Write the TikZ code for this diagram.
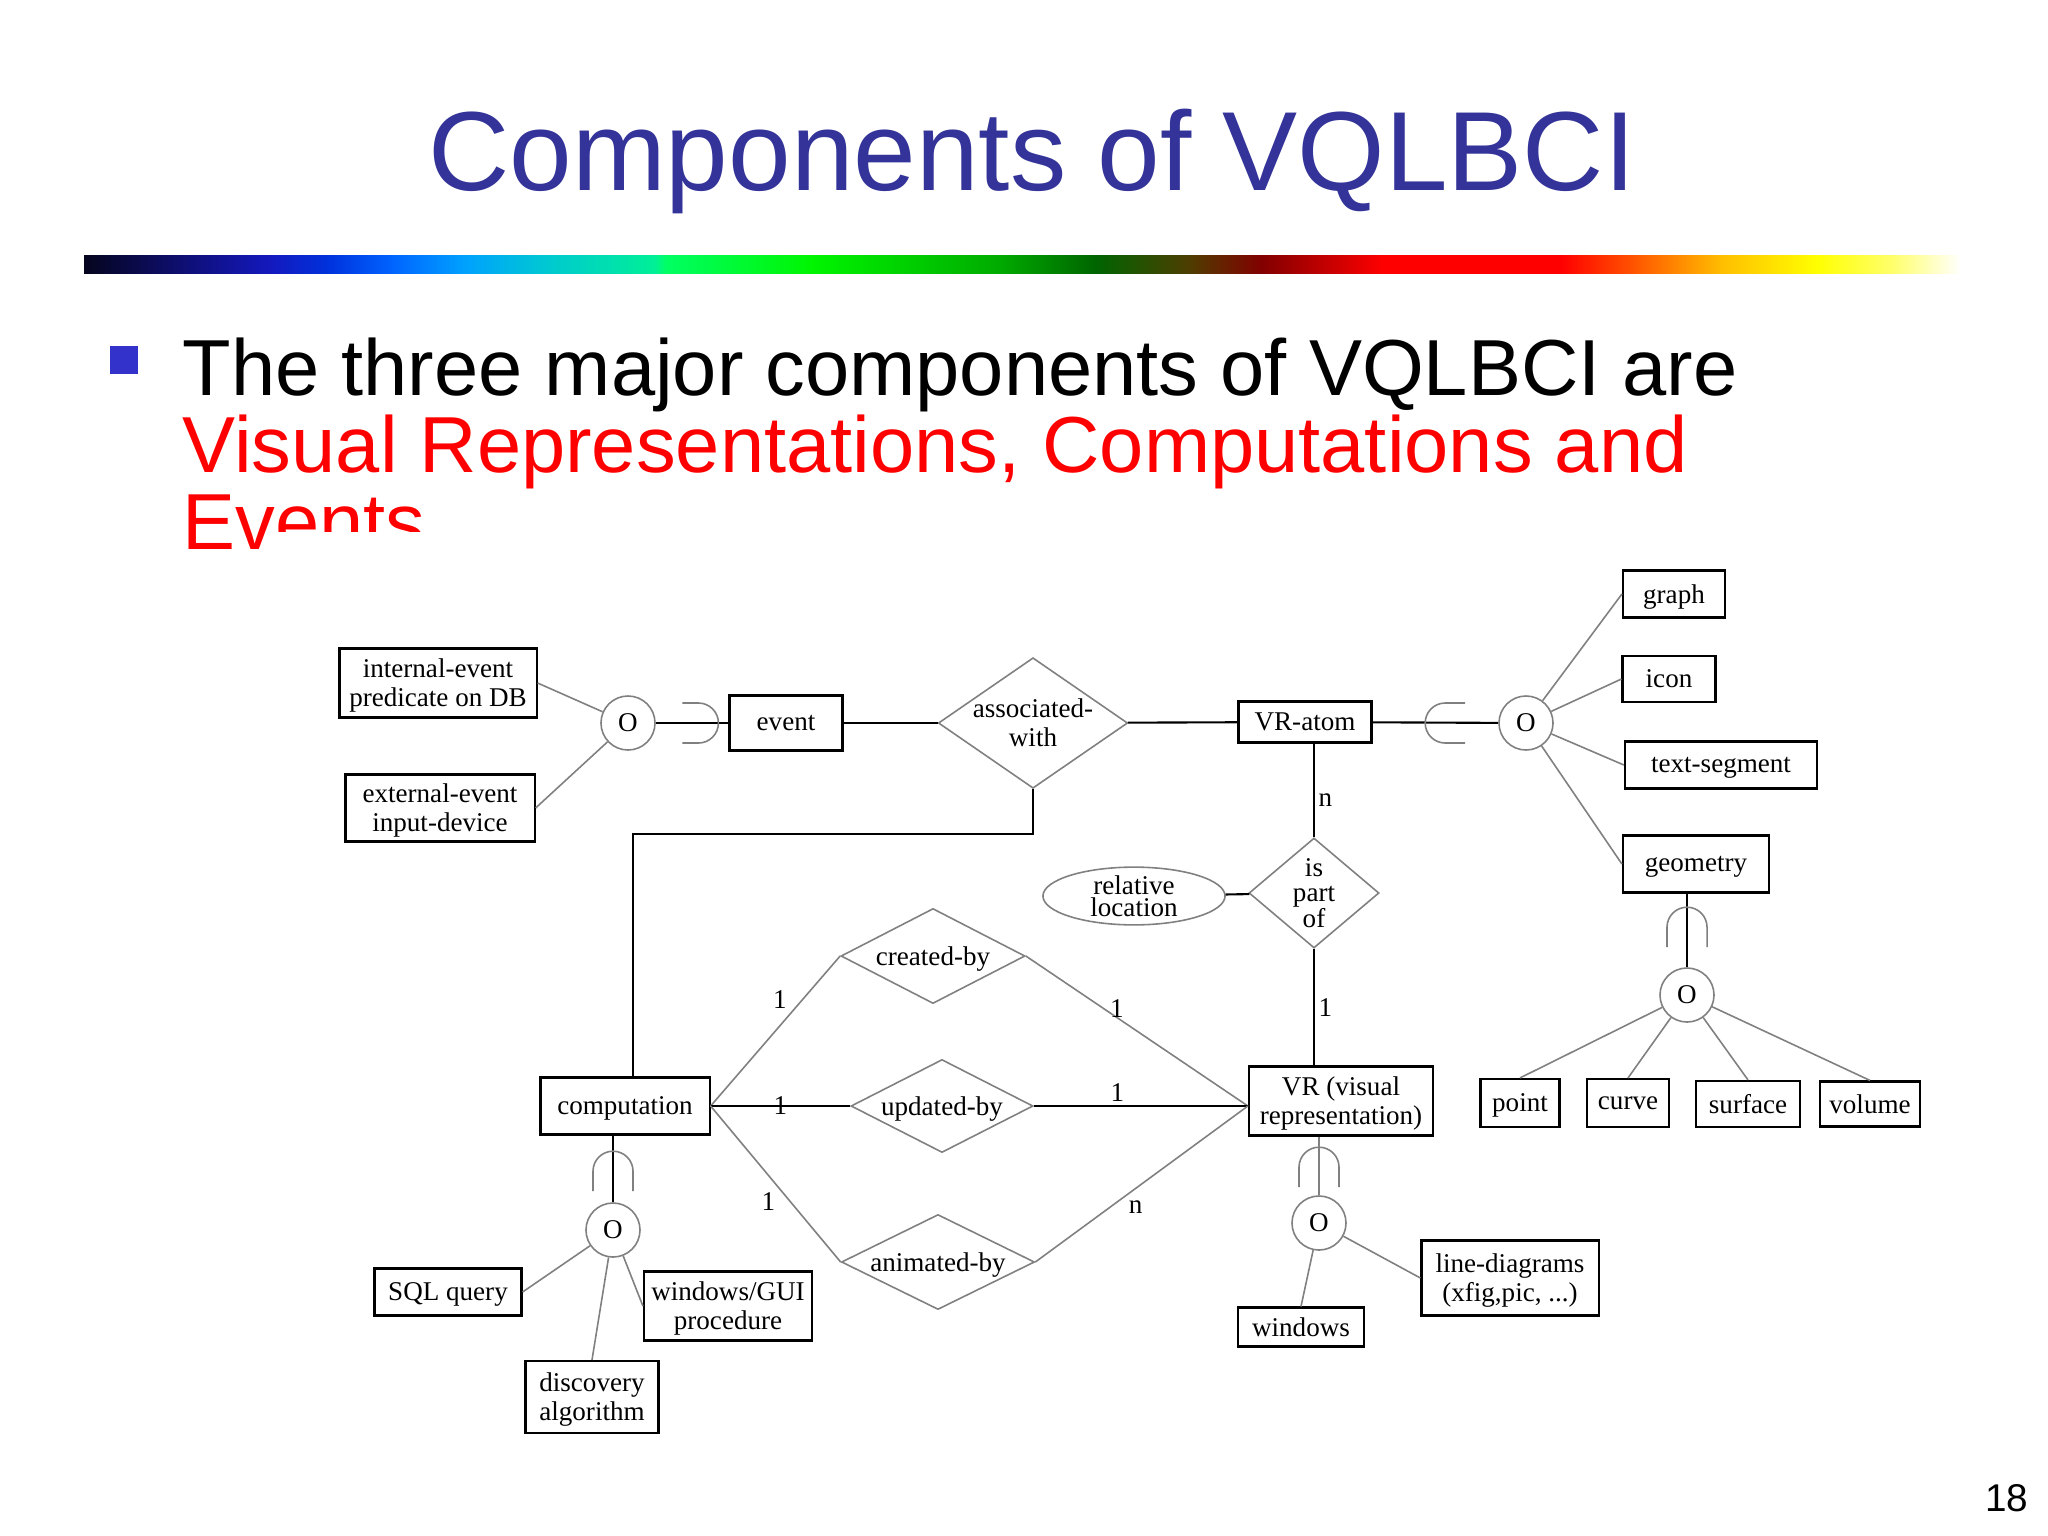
\documentclass[tikz,border=0pt]{standalone}
\usepackage{fontspec}
\setmainfont{Liberation Sans}
\newfontfamily\diagfont{Liberation Serif}
\usetikzlibrary{shapes.geometric,calc,positioning}
\definecolor{titleblue}{RGB}{51,51,153}
\definecolor{bulletblue}{RGB}{51,51,204}
\definecolor{hilite}{RGB}{255,0,0}
% rainbow bar stops
\definecolor{bara}{RGB}{5,5,30}
\definecolor{barb}{RGB}{15,15,120}
\definecolor{barc}{RGB}{20,25,190}
\definecolor{bard}{RGB}{0,50,220}
\definecolor{bare}{RGB}{0,100,255}
\definecolor{barf}{RGB}{0,160,255}
\definecolor{barg}{RGB}{0,200,210}
\definecolor{barh}{RGB}{0,240,150}
\definecolor{bari}{RGB}{0,255,100}
\definecolor{barj}{RGB}{0,245,0}
\definecolor{bark}{RGB}{0,170,0}
\definecolor{barl}{RGB}{0,100,0}
\definecolor{barm}{RGB}{80,60,0}
\definecolor{barn}{RGB}{130,0,0}
\definecolor{baro}{RGB}{255,0,0}
\definecolor{barp}{RGB}{255,0,0}
\definecolor{barq}{RGB}{255,90,0}
\definecolor{barr}{RGB}{255,190,0}
\definecolor{bars}{RGB}{255,255,0}
\definecolor{bart}{RGB}{255,255,110}
\definecolor{baru}{RGB}{255,255,255}

\begin{document}
\begin{tikzpicture}[
    x=0.01cm, y=-0.01cm,
    erfont/.style={font=\diagfont\fontsize{7.7}{8.2}\selectfont},
    entity/.style={rectangle, draw, line width=0.6pt, align=center, inner sep=1pt, text depth=0pt, erfont},
    relation/.style={diamond, draw=black!50, line width=0.45pt, align=center, inner sep=0pt, text depth=0pt, erfont},
    attrib/.style={ellipse, draw=black!50, line width=0.45pt, align=center, inner sep=0pt, font=\diagfont\fontsize{7.7}{6.2}\selectfont},
    disjoint/.style={circle, draw=black!50, line width=0.45pt, minimum size=0.54cm, inner sep=0pt, erfont},
    link/.style={line width=0.6pt},
    thinlink/.style={draw=black!50, line width=0.45pt},
    subset/.style={draw=black!50, line width=0.45pt},
    card/.style={erfont, inner sep=1pt}
]
\useasboundingbox (0,0) rectangle (2048,1536);

% Title
\node[font=\fontsize{32}{38}\selectfont, text=titleblue, anchor=base] (title) at (1032,190) {Components of VQLBCI};

% Rainbow bar
\foreach \xa/\ca/\xb/\cb in {84/bara/188/barb, 188/barb/270/barc, 270/barc/328/bard, 328/bard/392/bare,
    392/bare/462/barf, 462/barf/545/barg, 545/barg/655/barh, 655/barh/665/bari, 665/bari/812/barj,
    812/barj/1000/bark, 1000/bark/1096/barl, 1096/barl/1191/barm, 1191/barm/1261/barn, 1261/barn/1383/baro,
    1383/baro/1561/barp, 1561/barp/1638/barq, 1638/barq/1721/barr, 1721/barr/1816/bars, 1816/bars/1893/bart,
    1893/bart/1960/baru}
  \shade[left color=\ca, right color=\cb] (\xa,255) rectangle (\xb+1,273);

% Bullet text
\node[fill=bulletblue, minimum width=0.27cm, minimum height=0.28cm, inner sep=0pt] (bullet) at (124,360) {};
\node[anchor=north west, inner sep=0pt, align=left, font=\fontsize{22.6}{21.9}\selectfont] (body) at (182,337)
  {The three major components of VQLBCI are\\\color{hilite}Visual Representations, Computations and\\\color{hilite}Events};

% Diagram panel
\fill[white] (277,532) rectangle (1965,1470);

% Events side
\node[entity, minimum width=1.97cm, minimum height=0.69cm] (ievent) at (438,683) {internal-event\\predicate on DB};
\node[entity, minimum width=1.89cm, minimum height=0.67cm] (eevent) at (440,808) {external-event\\input-device};
\node[disjoint] (evor) at (628,723) {O};
\node[entity, minimum width=1.13cm, minimum height=0.55cm] (event) at (786,723) {event};
\node[relation, aspect=1.45, minimum width=1.83cm, minimum height=1.26cm] (assoc) at (1033,723) {associated-\\with};

% VR-atom side
\node[entity, minimum width=1.33cm, minimum height=0.41cm] (vratom) at (1305,722) {VR-atom};
\node[disjoint] (atomor) at (1526,723) {O};
\node[entity, minimum width=1.02cm, minimum height=0.47cm] (graph) at (1674,594) {graph};
\node[entity, minimum width=0.93cm, minimum height=0.46cm] (icon) at (1669,679) {icon};
\node[entity, minimum width=1.92cm, minimum height=0.47cm] (textseg) at (1721,765) {text-segment};
\node[entity, minimum width=1.46cm, minimum height=0.57cm] (geometry) at (1696,864) {geometry};
\node[disjoint] (geomor) at (1687,995) {O};
\node[entity, minimum width=0.79cm, minimum height=0.48cm] (point) at (1520,1103) {point};
\node[entity, minimum width=0.82cm, minimum height=0.48cm] (curve) at (1628,1103) {curve};
\node[entity, minimum width=1.04cm, minimum height=0.46cm] (surface) at (1748,1104) {surface};
\node[entity, minimum width=1.00cm, minimum height=0.45cm] (volume) at (1870,1104) {volume};

% is part of
\node[relation, aspect=1.18, minimum width=1.30cm, minimum height=1.10cm, font=\diagfont\fontsize{7.7}{7.3}\selectfont] (partof) at (1314,893) {is\\part\\of};
\node[attrib, minimum width=1.82cm, minimum height=0.53cm] (relloc) at (1134,896) {relative\\location};

% VR
\node[entity, minimum width=1.84cm, minimum height=0.69cm] (vr) at (1341,1101) {VR (visual\\representation)};
\node[disjoint] (vror) at (1319,1223) {O};
\node[entity, minimum width=1.26cm, minimum height=0.39cm] (windows) at (1301,1327) {windows};
\node[entity, minimum width=1.77cm, minimum height=0.75cm] (linediag) at (1510,1278) {line-diagrams\\(xfig,pic, ...)};

% Computation
\node[entity, minimum width=1.69cm, minimum height=0.57cm] (comp) at (625,1106) {computation};
\node[relation, aspect=1.94, minimum width=1.84cm, minimum height=0.95cm] (created) at (933,956) {created-by};
\node[relation, aspect=1.96, minimum width=1.82cm, minimum height=0.93cm] (updated) at (942,1106) {updated-by};
\node[relation, aspect=2.03, minimum width=1.93cm, minimum height=0.95cm] (animated) at (938,1262) {animated-by};
\node[disjoint] (compor) at (613,1230) {O};
\node[entity, minimum width=1.47cm, minimum height=0.47cm] (sql) at (448,1292) {SQL query};
\node[entity, minimum width=1.68cm, minimum height=0.69cm] (wgui) at (728,1306) {windows/GUI\\procedure};
\node[entity, minimum width=1.33cm, minimum height=0.72cm] (discov) at (592,1397) {discovery\\algorithm};

\coordinate (vrin) at (vr.west |- comp.east);

% Connectors - events
\draw[thinlink] (ievent.east) -- (evor);
\draw[thinlink] (eevent.east) -- (evor);
\draw[link] (evor) -- (event);
\draw[subset] ($(event.west)+(-46,-20)$) -- ++(16,0) arc[start angle=90, end angle=-90, radius=0.2cm] -- ++(-16,0);
\draw[link] (event) -- (assoc);
\draw[link] (assoc) -- (vratom);
\draw[link] (assoc.south) -- ++(0,45) -| ($(comp.north)+(8,0)$);

% Connectors - VR-atom
\draw[link] (vratom) -- (atomor);
\draw[subset] ($(atomor.west)+(-33,-20)$) -- ++(-20,0) arc[start angle=90, end angle=270, radius=0.2cm] -- ++(20,0);
\foreach \sub in {graph, icon, textseg, geometry}
  \draw[thinlink] (atomor) -- (\sub.west);
\draw[link] (geomor) -- (geomor |- geometry.south);
\draw[subset] ($(geomor.north)+(-20,-20)$) -- ++(0,-20) arc[start angle=180, end angle=0, radius=0.2cm] -- ++(0,20);
\foreach \sub in {point, curve, surface, volume}
  \draw[thinlink] (geomor) -- (\sub.north);

% Connectors - is part of
\draw[link] (partof.north) -- (partof.north |- vratom.south) node[pos=0.4, right, card] {n};
\draw[link] (partof.south) -- (partof.south |- vr.north) node[midway, right, card] {1};
\draw[link] (relloc) -- (partof);

% Connectors - computation
\draw[thinlink] (comp.east) -- (created.west) node[pos=0.62, above left, card] {1};
\draw[thinlink] (created.east) -- (vrin) node[pos=0.41, card, yshift=2.5pt] {1};
\draw[link] (comp.east) -- (updated.west) node[midway, card] {1};
\draw[link] (updated.east) -- (vrin) node[pos=0.39, above, card] {1};
\draw[thinlink] (comp.east) -- (animated.west) node[pos=0.53, below left, card] {1};
\draw[thinlink] (animated.east) -- (vrin) node[pos=0.42, below right, card] {n};
\draw[link] (compor) -- (compor |- comp.south);
\draw[subset] ($(compor.north)+(-20,-11)$) -- ++(0,-20) arc[start angle=180, end angle=0, radius=0.2cm] -- ++(0,20);
\foreach \sub/\anc in {sql/east, discov/north, wgui/west}
  \draw[thinlink] (compor) -- (\sub.\anc);

% Connectors - VR
\draw[thinlink] (vror) -- (vror |- vr.south);
\draw[subset] ($(vror.north)+(-20,-8)$) -- ++(0,-20) arc[start angle=180, end angle=0, radius=0.2cm] -- ++(0,20);
\draw[thinlink] (vror) -- (windows.north);
\draw[thinlink] (vror) -- (linediag.west);

% Page number
\node[font=\fontsize{11}{13}\selectfont, anchor=base east, inner sep=0pt] (pagenum) at (2029,1511) {18};
\end{tikzpicture}
\end{document}
